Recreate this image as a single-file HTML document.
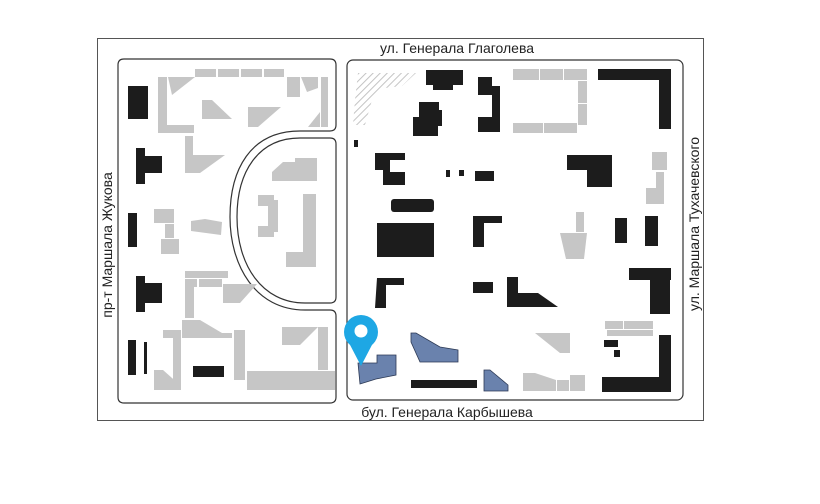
<!DOCTYPE html>
<html><head><meta charset="utf-8"><style>
html,body{margin:0;padding:0;background:#fff;width:820px;height:504px;overflow:hidden}
svg{display:block}
text{font-family:"Liberation Sans",sans-serif;fill:#222}
</style></head><body>
<svg width="820" height="504" viewBox="0 0 820 504" xmlns="http://www.w3.org/2000/svg">
<defs>
<pattern id="h" width="5" height="5" patternUnits="userSpaceOnUse" patternTransform="rotate(45)">
<rect width="5" height="5" fill="#fff"/><line x1="0" y1="0" x2="0" y2="5" stroke="#c4c4c4" stroke-width="2"/>
</pattern>
</defs>
<rect x="97.5" y="38.5" width="606" height="382" fill="none" stroke="#555" stroke-width="1"/>
<!-- left block with cutout -->
<path d="M124,59 H330 Q336,59 336,65 V125 Q336,131 330,131 H300 C250,131 230,170 230,217 C230,265 255,310 305,310 H330 Q336,310 336,316 V397 Q336,403 330,403 H124 Q118,403 118,397 V65 Q118,59 124,59 Z" fill="none" stroke="#333" stroke-width="1.2"/>
<path d="M330,138 Q336,138 336,144 V297 Q336,303 330,303 H305 C262,303 237,265 237,217 C237,172 258,138 300,138 Z" fill="none" stroke="#333" stroke-width="1.2"/>
<rect x="347" y="60" width="336" height="340" rx="6" fill="none" stroke="#333" stroke-width="1.2"/>

<g fill="#c6c6c6">
<rect x="195" y="69" width="21" height="8"/><rect x="218" y="69" width="21" height="8"/><rect x="241" y="69" width="21" height="8"/><rect x="264" y="69" width="20" height="8"/>
<rect x="158" y="77" width="9" height="56"/><rect x="158" y="125" width="36" height="8"/>
<polygon points="168,77 195,77 172,95"/>
<polygon points="202,100 212,100 232,119 202,119"/>
<polygon points="248,107 281,107 258,127 248,127"/>
<rect x="321" y="77" width="7" height="50"/><rect x="287" y="77" width="13" height="20"/>
<polygon points="301,77 318,77 318,88 307,92"/>
<polygon points="308,127 320,112 320,127"/>
<rect x="185" y="136" width="8" height="37"/>
<polygon points="193,155 225,155 200,173 193,173"/>
<rect x="154" y="209" width="20" height="14"/><rect x="165" y="224" width="9" height="14"/><rect x="161" y="239" width="18" height="15"/>
<polygon points="191,221 205,219 222,222 221,235 206,233 191,231"/>
<polygon points="272,172 283,162 295,162 295,158 317,158 317,181 272,181"/>
<polygon points="258,195 274,195 274,200 278,200 278,232 274,232 274,237 258,237 258,226 268,226 268,206 258,206"/>
<rect x="303" y="194" width="13" height="73"/><rect x="286" y="252" width="30" height="15"/>
<rect x="185" y="271" width="43" height="7"/><rect x="185" y="279" width="12" height="8"/><rect x="199" y="279" width="23" height="8"/>
<rect x="185" y="287" width="9" height="31"/>
<polygon points="223,284 257,284 240,303 223,303"/>
<rect x="163" y="330" width="18" height="8"/><rect x="173" y="338" width="8" height="52"/>
<polygon points="154,370 163,370 181,386 181,390 154,390"/>
<polygon points="182,320 200,320 222,333 232,333 232,338 182,338"/>
<rect x="234" y="330" width="11" height="50"/>
<rect x="247" y="371" width="88" height="19"/>
<polygon points="282,327 318,327 300,345 282,345"/>
<rect x="318" y="327" width="10" height="43"/>
<!-- right block grey -->
<rect x="513" y="69" width="26" height="11"/><rect x="540" y="69" width="23" height="11"/><rect x="564" y="69" width="23" height="11"/>
<rect x="578" y="81" width="9" height="22"/><rect x="578" y="104" width="9" height="21"/>
<rect x="513" y="123" width="30" height="10"/><rect x="544" y="123" width="33" height="10"/>
<rect x="652" y="152" width="15" height="18"/><rect x="656" y="172" width="8" height="16"/><rect x="646" y="188" width="18" height="16"/>
<rect x="576" y="212" width="8" height="20"/>
<polygon points="560,233 587,233 584,259 566,259"/>
<polygon points="535,333 570,333 570,353 560,353"/>
<polygon points="523,373 535,373 556,380 556,391 523,391"/><rect x="557" y="380" width="12" height="11"/><rect x="570" y="375" width="15" height="16"/>
<rect x="605" y="321" width="18" height="8"/><rect x="624" y="321" width="29" height="8"/><rect x="607" y="330" width="46" height="6"/>
</g>
<polygon points="358,73 416,73 402,86 385,88 372,100 365,125 353,125 355,100" fill="url(#h)"/>

<g fill="#1c1c1c">
<rect x="128" y="86" width="20" height="33"/>
<rect x="136" y="148" width="9" height="36"/><rect x="145" y="156" width="17" height="17"/>
<rect x="128" y="213" width="9" height="34"/>
<rect x="136" y="276" width="9" height="36"/><rect x="145" y="283" width="17" height="20"/>
<rect x="128" y="340" width="8" height="35"/><rect x="144" y="342" width="3" height="32"/>
<rect x="193" y="366" width="31" height="11"/>
<rect x="426" y="70" width="37" height="15"/><rect x="433" y="80" width="20" height="10"/>
<polygon points="419,102 439,102 439,110 442,110 442,126 438,126 438,136 413,136 413,117 419,117"/>
<polygon points="478,77 492,77 492,86 500,86 500,132 478,132 478,117 492,117 492,95 478,95"/>
<rect x="598" y="69" width="73" height="11"/><rect x="659" y="69" width="12" height="60"/>
<rect x="354" y="140" width="4" height="7"/>
<polygon points="377,153 405,153 405,160 390,160 390,172 405,172 405,185 383,185 383,170 375,170 375,153"/>
<rect x="446" y="170" width="4" height="7"/><rect x="459" y="170" width="5" height="6"/><rect x="475" y="171" width="19" height="10"/>
<polygon points="567,155 612,155 612,187 587,187 587,170 567,170"/>
<rect x="391" y="199" width="43" height="13" rx="3"/>
<rect x="377" y="223" width="57" height="34"/>
<polygon points="473,216 502,216 502,223 484,223 484,247 473,247"/>
<rect x="615" y="218" width="12" height="25"/>
<rect x="645" y="216" width="13" height="30"/>
<rect x="629" y="268" width="42" height="12"/><rect x="650" y="280" width="20" height="34"/>
<polygon points="377,278 404,278 404,285 386,285 386,308 375,308"/>
<rect x="473" y="282" width="20" height="11"/>
<polygon points="507,277 518,277 518,293 538,293 558,307 507,307"/>
<rect x="411" y="380" width="66" height="8"/>
<rect x="604" y="340" width="14" height="7"/><rect x="614" y="350" width="6" height="7"/>
<rect x="602" y="377" width="69" height="15"/><rect x="659" y="335" width="12" height="57"/>
</g>
<g fill="#6a82ad" stroke="#2d3a55" stroke-width="0.8">
<polygon points="358,363 377,363 377,355 396,355 396,375 376,379 360,384"/>
<polygon points="411,333 416,333 440,347 458,350 458,362 420,362 411,342"/>
<polygon points="484,370 490,370 508,385 508,391 484,391"/>
</g>
<!-- pin -->
<path d="M361,366 L348,341 A16,16 0 1 1 374,341 Z" fill="#1ea7e4"/>
<circle cx="361" cy="332" r="17" fill="#1ea7e4"/>
<circle cx="361" cy="331" r="6.5" fill="#fff"/>

<text x="457" y="53" font-size="14" text-anchor="middle">ул. Генерала Глаголева</text>
<text x="447" y="417" font-size="14" text-anchor="middle">бул. Генерала Карбышева</text>
<text transform="translate(112,245) rotate(-90)" font-size="14" text-anchor="middle">пр-т Маршала Жукова</text>
<text transform="translate(699,224) rotate(-90)" font-size="14" text-anchor="middle">ул. Маршала Тухачевского</text>
</svg>
</body></html>
